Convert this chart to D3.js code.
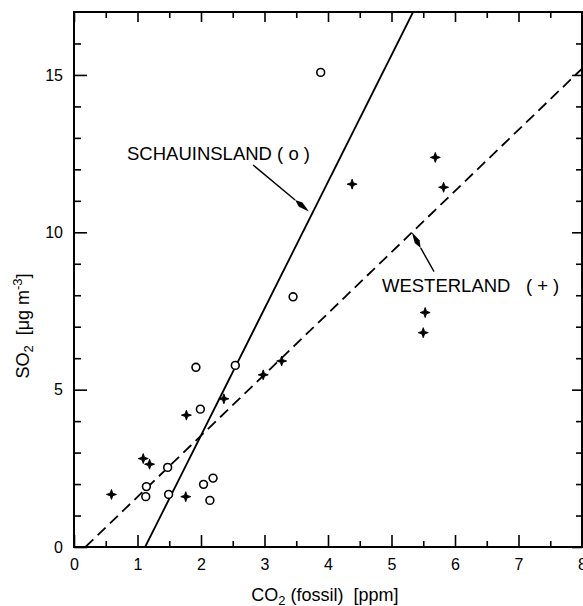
<!DOCTYPE html>
<meta charset="utf-8">
<style>
body{ margin:0; background:#fff; }
text{ font-family: Helvetica, Arial, "Liberation Sans", sans-serif; fill:#000; }
.tick text{ font-size:16px; }
.tick line{ stroke:#000; stroke-width:1.6px; }
.axis path.domain{ display:none; }
.frame{ fill:none; stroke:#000; stroke-width:2px; }
.fit{ fill:none; stroke:#000; stroke-width:1.8px; }
.note{ font-size:18.5px; white-space:pre; }
.title{ font-size:18px; white-space:pre; }
</style>
<body>
<script src="https://d3js.org/d3.v7.min.js"></script>
<script>

// Schauinsland (o)
var schauX = [1.92, 2.54, 1.99, 1.475, 1.14, 1.13, 1.49, 2.04, 2.19, 2.14, 3.885, 3.45];
var schauY = [5.71, 5.77, 4.38, 2.53, 1.92, 1.60, 1.67, 1.99, 2.19, 1.48, 15.08, 7.95];
// Westerland (+)
var westX = [0.59, 1.09, 1.19, 1.77, 1.76, 2.36, 2.98, 3.27, 5.69, 4.38, 5.82, 5.53, 5.50];
var westY = [1.67, 2.81, 2.63, 4.19, 1.60, 4.71, 5.47, 5.91, 12.38, 11.53, 11.43, 7.45, 6.81];
// regression lines, [x0,y0,x1,y1]
var schauFit = [1.12, 0, 5.34, 17];
var westFit = [0.18, 0, 8, 15.2];

var xMajor = [0,1,2,3,4,5,6,7,8];
var xMinor = [0.5,1.5,2.5,3.5,4.5,5.5,6.5,7.5];
var yMajor = [0,5,10,15];
var yMinor = [1,2,3,4,6,7,8,9,11,12,13,14,16];

var W = 583, H = 606;
var L = 74, R = 582, T = 12, B = 547;

var svg = d3.select("body").append("svg").attr("width", W).attr("height", H);

var x = d3.scaleLinear().domain([0,8]).range([L,R]);
var y = d3.scaleLinear().domain([0,17]).range([B,T]);

// axes, ticks pointing inward
svg.append("g").attr("class","axis").attr("transform","translate(0,"+B+")")
	.call(d3.axisBottom(x).tickValues(xMajor).tickSize(-12).tickPadding(12).tickFormat(d3.format("d")));
svg.append("g").attr("class","axis").attr("transform","translate(0,"+B+")")
	.call(d3.axisBottom(x).tickValues(xMinor).tickSize(-6).tickFormat(""));
svg.append("g").attr("class","axis").attr("transform","translate(0,"+T+")")
	.call(d3.axisTop(x).tickValues(xMajor).tickSize(-10).tickFormat(""));
svg.append("g").attr("class","axis").attr("transform","translate(0,"+T+")")
	.call(d3.axisTop(x).tickValues(xMinor).tickSize(-6).tickFormat(""));

svg.append("g").attr("class","axis").attr("transform","translate("+L+",0)")
	.call(d3.axisLeft(y).tickValues(yMajor).tickSize(-13).tickPadding(11).tickFormat(d3.format("d")));
svg.append("g").attr("class","axis").attr("transform","translate("+L+",0)")
	.call(d3.axisLeft(y).tickValues(yMinor).tickSize(-7).tickFormat(""));
svg.append("g").attr("class","axis").attr("transform","translate("+R+",0)")
	.call(d3.axisRight(y).tickValues(yMajor).tickSize(-10).tickFormat(""));
svg.append("g").attr("class","axis").attr("transform","translate("+R+",0)")
	.call(d3.axisRight(y).tickValues(yMinor).tickSize(-6).tickFormat(""));

svg.selectAll(".axis").attr("font-family", null).attr("font-size", null);

svg.append("rect").attr("class","frame")
	.attr("x",L).attr("y",T).attr("width",R-L).attr("height",B-T);

// fits
svg.append("defs").append("clipPath").attr("id","plot")
	.append("rect").attr("x",L).attr("y",T).attr("width",R-L).attr("height",B-T);

svg.append("line").attr("class","fit").attr("clip-path","url(#plot)")
	.attr("x1",x(schauFit[0])).attr("y1",y(schauFit[1]))
	.attr("x2",x(schauFit[2])).attr("y2",y(schauFit[3]));
svg.append("line").attr("class","fit").attr("clip-path","url(#plot)")
	.attr("stroke-dasharray","11,6")
	.attr("x1",x(westFit[0])).attr("y1",y(westFit[1]))
	.attr("x2",x(westFit[2])).attr("y2",y(westFit[3]));

// points
svg.append("g").selectAll("circle")
	.data(schauX.map((d,i)=>[d,schauY[i]]))
	.join("circle")
	.attr("cx",d=>x(d[0])).attr("cy",d=>y(d[1])).attr("r",3.9)
	.attr("fill","#fff").attr("stroke","#000").attr("stroke-width",1.6);

var star = "M0,-5L1.3,-1.3L5,0L1.3,1.3L0,5L-1.3,1.3L-5,0L-1.3,-1.3Z";
svg.append("g").selectAll("path")
	.data(westX.map((d,i)=>[d,westY[i]]))
	.join("path")
	.attr("d",star)
	.attr("transform",d=>"translate("+x(d[0])+","+y(d[1])+")")
	.attr("fill","#000").attr("stroke","#000").attr("stroke-width",0.9);

// labels with arrows
function arrow(x0,y0,x1,y1){
	var px0=x(x0), py0=y(y0), px1=x(x1), py1=y(y1);
	var a = Math.atan2(py1-py0, px1-px0);
	var len = 18, w = 2.8;
	var bx = px1-len*Math.cos(a), by = py1-len*Math.sin(a);
	svg.append("line").attr("x1",px0).attr("y1",py0).attr("x2",bx).attr("y2",by)
		.attr("stroke","#000").attr("stroke-width",1.4);
	var nx = -Math.sin(a)*w, ny = Math.cos(a)*w;
	var mx = px1-len*0.6*Math.cos(a), my = py1-len*0.6*Math.sin(a);
	svg.append("path")
		.attr("d","M"+bx+","+by+"L"+(mx+nx)+","+(my+ny)+"L"+px1+","+py1+"L"+(mx-nx)+","+(my-ny)+"Z")
		.attr("fill","#000");
}

svg.append("text").attr("class","note").attr("x",x(0.835)).attr("y",y(12.3))
	.text("SCHAUINSLAND ( o )");
arrow(2.82, 12.14, 3.70, 10.66);

svg.append("text").attr("class","note").attr("x",x(4.85)).attr("y",y(8.1))
	.text("WESTERLAND   ( + )");
arrow(5.67, 8.75, 5.32, 10.0);

// axis titles
var xt = svg.append("text").attr("class","title").attr("x",325).attr("y",601).attr("text-anchor","middle");
xt.append("tspan").text("CO");
xt.append("tspan").attr("dy",4).attr("font-size","13px").text("2");
xt.append("tspan").attr("dy",-4).text(" (fossil)  [ppm]");

var yt = svg.append("text").attr("class","title").attr("transform","translate(29,326) rotate(-90)").attr("text-anchor","middle");
yt.append("tspan").text("SO");
yt.append("tspan").attr("dy",4).attr("font-size","13px").text("2");
yt.append("tspan").attr("dy",-4).text("  [\u03bcg m");
yt.append("tspan").attr("dy",-7).attr("font-size","13px").text("-3");
yt.append("tspan").attr("dy",7).text("]");

</script>
</body>
</html>
